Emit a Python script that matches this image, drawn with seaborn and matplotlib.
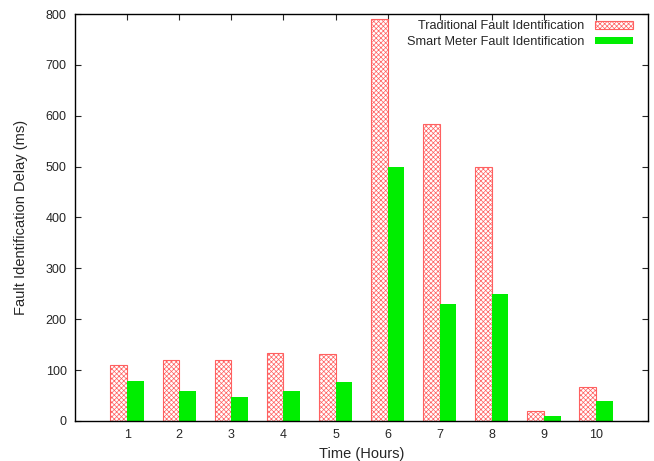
import numpy as np
import pandas as pd
import matplotlib
matplotlib.use("Agg")
import matplotlib.pyplot as plt
import seaborn as sns

hours = [1, 2, 3, 4, 5, 6, 7, 8, 9, 10]
traditional = [110, 120, 120, 134, 131, 790, 583, 500, 20, 67]
smart_meter = [78, 58, 47, 58, 77, 500, 230, 250, 10, 40]
series_names = ["Traditional Fault Identification", "Smart Meter Fault Identification"]

df = pd.DataFrame({
    "hour": hours * 2,
    "delay": traditional + smart_meter,
    "method": [series_names[0]] * len(hours) + [series_names[1]] * len(hours),
})

sns.set_style("ticks")
plt.rcParams["font.family"] = ["Liberation Sans", "DejaVu Sans"]
plt.rcParams["hatch.linewidth"] = 0.5
plt.rcParams["xtick.direction"] = "in"
plt.rcParams["ytick.direction"] = "in"

fig = plt.figure(figsize=(6.54, 4.61), dpi=100)
ax = fig.add_axes([0.1147, 0.0868, 0.8763, 0.8828])

sns.barplot(data=df, x="hour", y="delay", hue="method",
            palette=["white", "#00ee00"], width=0.64, ax=ax,
            saturation=1, errorbar=None)

# gnuplot-like fills: red crosshatch for traditional, solid green for smart meter
for bar in ax.containers[0]:
    bar.set_facecolor("white")
    bar.set_edgecolor("#ff6060")
    bar.set_hatch("xxxxxxx")
    bar.set_linewidth(0.8)
for bar in ax.containers[1]:
    bar.set_facecolor("#00ee00")
    bar.set_edgecolor("#00ee00")
    bar.set_linewidth(0)

ax.set_xlim(-1, 10)
ax.set_ylim(0, 800)
ax.set_yticks(np.arange(0, 801, 100))
ax.tick_params(top=True, right=True, labelsize=9, length=4, width=0.8, pad=6)
for s in ax.spines.values():
    s.set_linewidth(1.0)
    s.set_color("black")

ax.set_xlabel("Time (Hours)", fontsize=10.5, labelpad=4)
ax.set_ylabel("Fault Identification Delay (ms)", fontsize=10.5, labelpad=13)

ax.legend(handles=[ax.containers[0][0], ax.containers[1][0]], labels=series_names,
          loc="upper right", bbox_to_anchor=(0.9825, 0.997), frameon=False,
          markerfirst=False, fontsize=9.2, handlelength=3.0, handleheight=0.55,
          labelspacing=0.28, borderaxespad=0, handletextpad=0.8)

fig.savefig("out.png", dpi=100)
